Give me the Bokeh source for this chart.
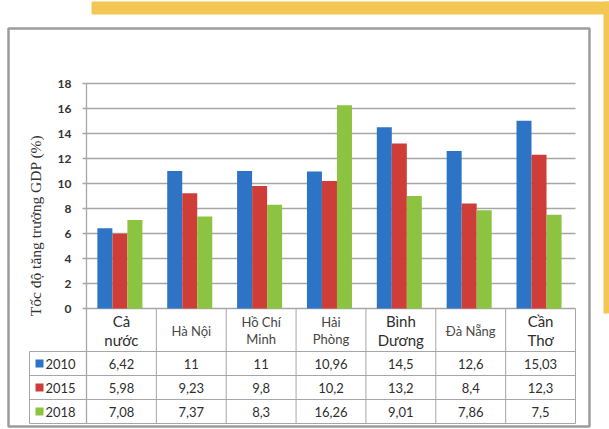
import math
from bokeh.plotting import figure
from bokeh.models import ColumnDataSource, Range1d, LinearAxis, FixedTicker
from bokeh.embed import file_html
from bokeh.resources import INLINE
from bokeh.core.properties import value

# GDP growth rate (%) by locality and year
categories = ["Cả\nnước", "Hà Nội", "Hồ Chí\nMinh", "Hải\nPhòng", "Bình\nDương", "Đà Nẵng", "Cần\nThơ"]
years = ["2010", "2015", "2018"]
growth_2010 = [6.42, 11, 11, 10.96, 14.5, 12.6, 15.03]
growth_2015 = [5.98, 9.23, 9.8, 10.2, 13.2, 8.4, 12.3]
growth_2018 = [7.08, 7.37, 8.3, 16.26, 9.01, 7.86, 7.5]
y_ticks = [0, 2, 4, 6, 8, 10, 12, 14, 16, 18]
y_title = "Tốc độ tăng trưởng GDP (%)"

series = [growth_2010, growth_2015, growth_2018]
colors = ["#2E74C6", "#CF3D38", "#8CC441"]
header_sizes = ["15px", "13px", "13px", "13px", "15px", "13px", "15px"]
header_colors = ["#2E2E2E", "#4A4A4A", "#444444", "#444444", "#2E2E2E", "#4A4A4A", "#2E2E2E"]

W, H = 609, 429
# the frame fills the whole canvas; one x unit is one category column,
# one y unit is one percentage point
X0, XSTEP = 86, (575 - 86) / 7
Y0, YSTEP = 308, 12.5


def dx(px):
    return (px - X0) / XSTEP


def dy(px):
    return (Y0 - px) / YSTEP


n = len(categories)
grid_color = "#A6A6A6"
text_color = "#2E2E2E"
num_font = value("Lato")

p = figure(width=W, height=H,
           x_range=Range1d(dx(0), dx(W)), y_range=Range1d(dy(H), dy(0)),
           x_axis_type=None, y_axis_type=None,
           toolbar_location=None, output_backend="svg", min_border=0)
p.outline_line_color = None
p.background_fill_color = "white"
p.border_fill_color = "white"

# decorative frame: yellow corner bars and grey chart border
p.quad(left=[dx(91), dx(603)], right=[dx(W), dx(W)],
       top=[dy(1), dy(1)], bottom=[dy(14), dy(313)],
       fill_color="#F2C752", line_color=None)
p.quad(left=dx(8), right=dx(589), top=dy(28), bottom=dy(426),
       fill_color=None, line_color="#9C9C9C", line_width=2.5)

# horizontal gridlines over the category span
p.segment(x0=[0] * len(y_ticks), x1=[n] * len(y_ticks), y0=y_ticks, y1=y_ticks,
          line_color=grid_color, line_width=1.3)

# y axis drawn at the left edge of the first category, continuing down the table
yaxis = LinearAxis(ticker=FixedTicker(ticks=y_ticks), fixed_location=0,
                   bounds=(dy(423), y_ticks[-1]))
yaxis.axis_line_color = grid_color
yaxis.axis_line_width = 1.3
yaxis.major_tick_line_color = grid_color
yaxis.major_tick_line_width = 1.3
yaxis.major_tick_out = 4
yaxis.major_tick_in = 0
yaxis.minor_tick_line_color = None
yaxis.major_label_standoff = 11
yaxis.major_label_text_font = "Lato"
yaxis.major_label_text_font_size = "12px"
yaxis.major_label_text_font_style = "bold"
yaxis.major_label_text_color = "#333333"
p.add_layout(yaxis, "left")

p.text(x=[dx(35)], y=[dy(225)], text=[y_title], angle=math.pi / 2,
       text_align="center", text_baseline="middle",
       text_font=value("Liberation Serif"), text_font_size="15.5px",
       text_color="#333333")

# grouped bars
bar_w = 15 / XSTEP
offsets = [-0.237, -0.022, 0.193]
for vals, off, col in zip(series, offsets, colors):
    src = ColumnDataSource(dict(x=[i + 0.5 + off for i in range(n)], top=vals))
    p.vbar(x="x", top="top", bottom=0, width=bar_w, source=src,
           fill_color=col, line_color=None)

# data table below the plot
header_bottom = dy(351)
row_h = 24 / YSTEP
table_bottom = header_bottom - row_h * len(years)
table_left = dx(29)

row_lines = [header_bottom - k * row_h for k in range(len(years) + 1)]
p.segment(x0=[table_left] * len(row_lines), x1=[n] * len(row_lines),
          y0=row_lines, y1=row_lines, line_color=grid_color, line_width=1)
p.segment(x0=list(range(1, n + 1)), x1=list(range(1, n + 1)),
          y0=[0] * n, y1=[table_bottom] * n, line_color=grid_color, line_width=1)
p.segment(x0=[table_left], x1=[table_left], y0=[header_bottom], y1=[table_bottom],
          line_color=grid_color, line_width=1)

hdr = ColumnDataSource(dict(x=[i + 0.5 for i in range(n)], y=[dy(330)] * n,
                            text=categories, size=header_sizes, color=header_colors))
p.text(x="x", y="y", text="text", source=hdr, text_align="center",
       text_baseline="middle", text_font=num_font, text_font_size="size",
       text_color="color", text_line_height=1.1)


def fmt(v):
    return f"{v:g}".replace(".", ",")


row_centers = [header_bottom - (k + 0.5) * row_h for k in range(len(years))]
for vals, yc in zip(series, row_centers):
    src = ColumnDataSource(dict(x=[i + 0.5 for i in range(n)], y=[yc] * n,
                                text=[fmt(v) for v in vals]))
    p.text(x="x", y="y", text="text", source=src, text_align="center",
           text_baseline="middle", text_font=num_font, text_font_size="13px",
           text_color=text_color)

p.scatter(x=[dx(39)] * len(years), y=row_centers, marker="square", size=8,
          fill_color=colors, line_color=None)
p.text(x=[dx(45)] * len(years), y=row_centers, text=years, text_align="left",
       text_baseline="middle", text_font=num_font, text_font_size="13px",
       text_color=text_color)

open("out.html", "w").write(file_html(p, INLINE))
